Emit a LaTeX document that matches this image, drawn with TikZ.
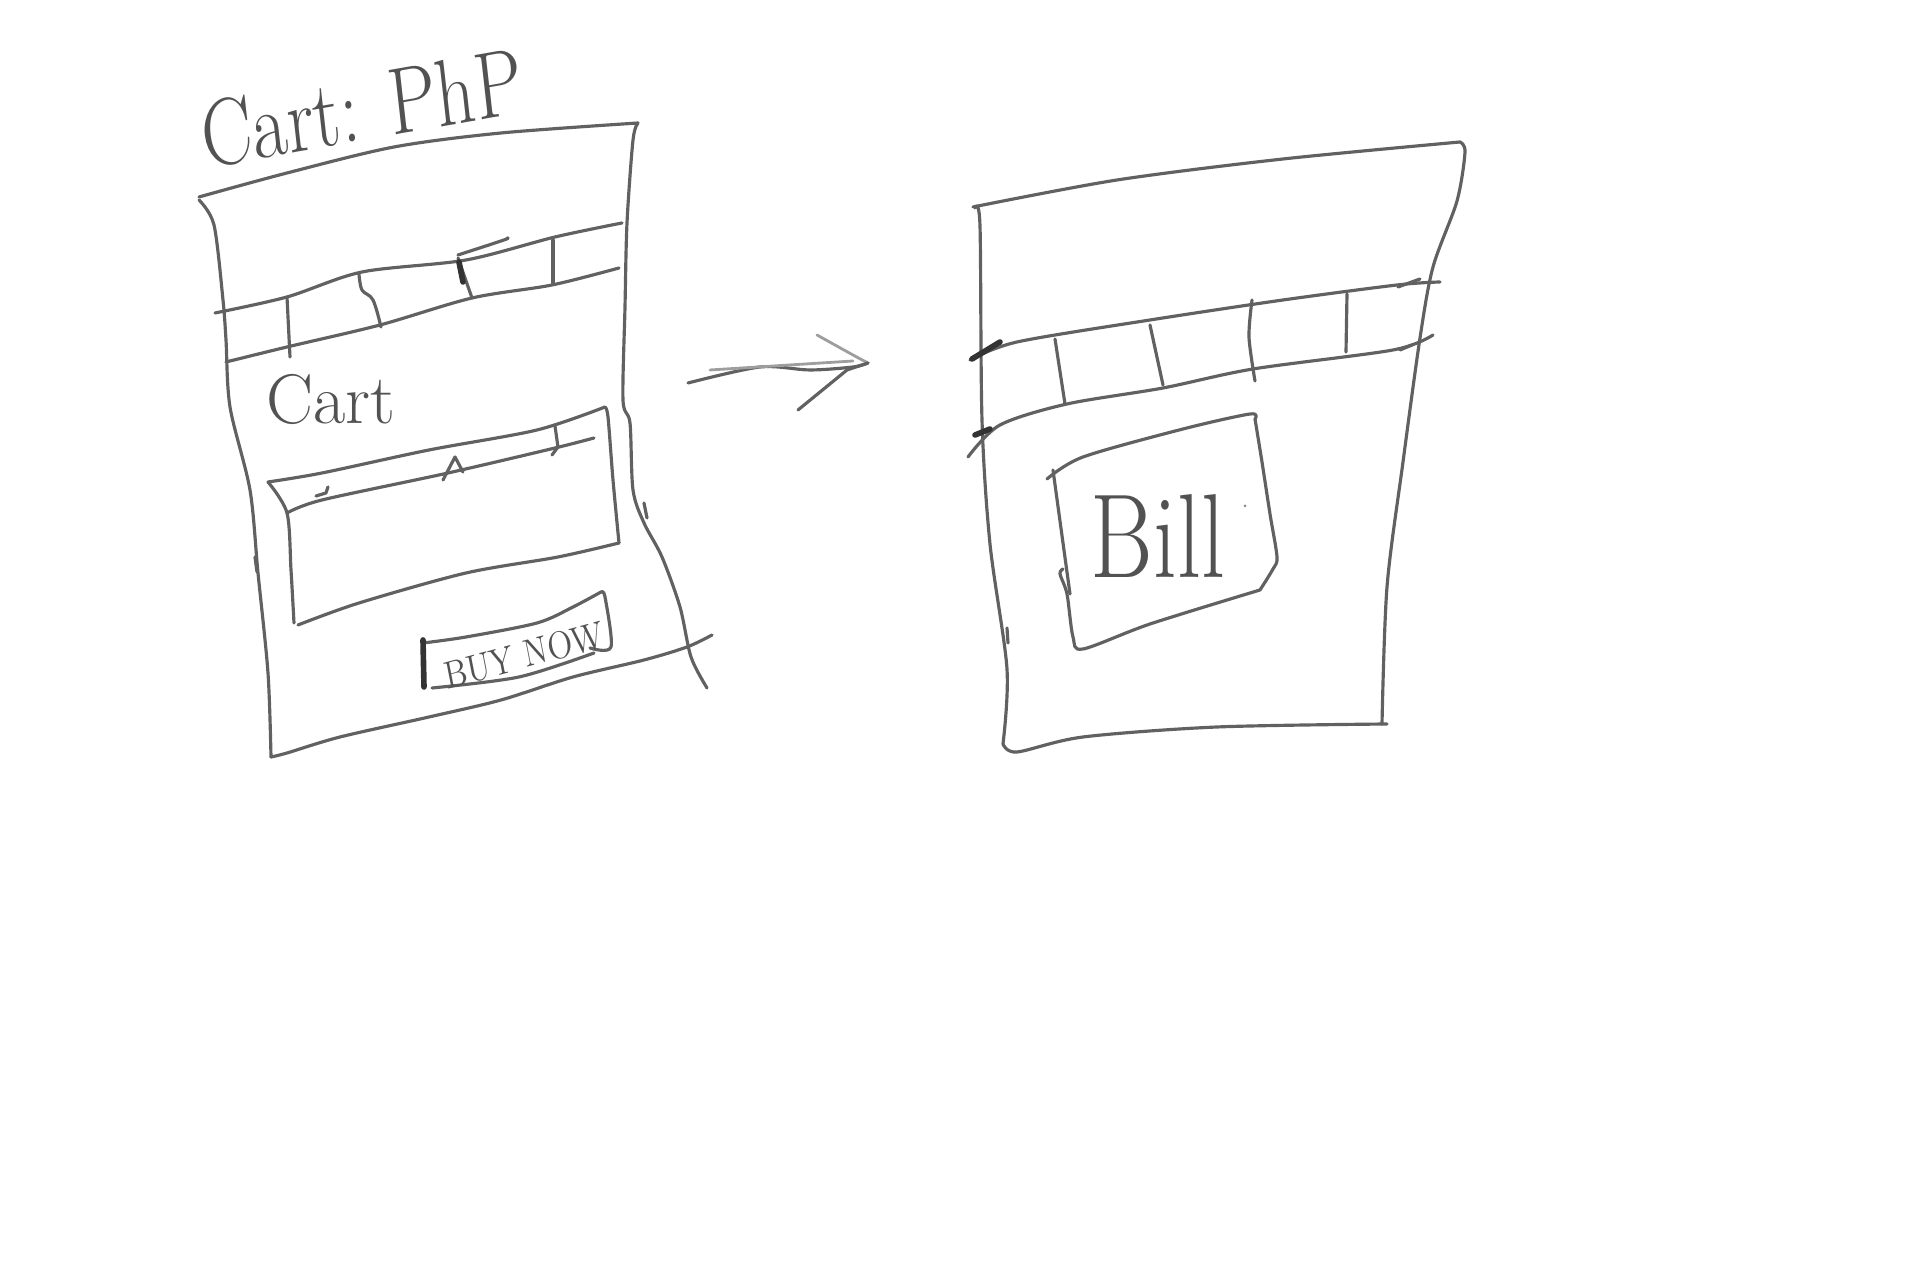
\documentclass[tikz,border=0pt]{standalone}
\usepackage{tikz}
\usetikzlibrary{calc}
\tikzset{
  pen/.style={draw=black!62, line width=0.9pt, line cap=round, line join=round},
  softpen/.style={draw=black!38, line width=0.8pt, line cap=round, line join=round},
  boldpen/.style={draw=black!80, line width=1.6pt, line cap=round},
  hand/.style={text=black!68, inner sep=0pt},
}

\begin{document}
\begin{tikzpicture}[x=0.01cm, y=-0.01cm]

\useasboundingbox (0,0) rectangle (1920,1280);

% ── Seite 1: cart.php ─────────────────────────────────────────────────────────
\node[hand, font=\fontsize{27}{30}\selectfont, xscale=0.8, rotate=8] (title) at (362,108) {Cart: PhP};

% Rahmen
\draw[pen] plot[smooth, tension=.5] coordinates {(199,197) (287,173) (394,147) (501,133) (638,123)};
\draw[pen] plot[smooth, tension=.5] coordinates {(199,200) (214,225) (223,300) (226,340) (230,407) (250,490) (258,573) (268,673) (271,757)};
\draw[pen] plot[smooth, tension=.5] coordinates {(271,757) (287,753) (340,737) (429,717) (501,700) (573,677) (644,660) (687,647) (712,635)};
\draw[pen] plot[smooth, tension=.5] coordinates {(638,123) (633,140) (627,223) (625,307) (623,400) (630,423) (633,490) (644,523) (662,557) (680,607) (691,657) (707,688)};
\draw[pen] (255,557) -- (257,572);
\draw[pen] (644,503) -- (647,518);

% Menüleiste
\draw[pen] plot[smooth, tension=.5] coordinates {(215,313) (287,297) (362,272) (466,260) (555,237) (622,223)};
\draw[pen] plot[smooth, tension=.5] coordinates {(458,255) (504,240) (507,238)};
\draw[pen] plot[smooth, tension=.5] coordinates {(226,362) (287,347) (380,325) (472,298) (552,285) (619,268)};
\draw[pen] (287,297) -- (290,357);
\draw[pen] plot[smooth, tension=.6] coordinates {(359,274) (362,290) (373,300) (381,327)};
\draw[pen] (458,258) -- (472,298);
\draw[boldpen] (459,262) -- (463,282);
\draw[pen] (553,240) -- (553,283);

% Überschrift
\node[hand, font=\fontsize{20}{24}\selectfont] (cartlbl) at (331,399) {Cart};

% Tabelle
\draw[pen] plot[smooth, tension=.5] coordinates {(268,482) (322,473) (429,450) (537,430) (605,407)};
\draw[pen] plot[smooth, tension=.5] coordinates {(605,407) (608,417) (613,480) (619,543)};
\draw[pen] plot[smooth, tension=.5] coordinates {(619,543) (558,557) (466,573) (359,603) (298,625)};
\draw[pen] plot[smooth, tension=.5] coordinates {(268,482) (287,513) (291,570) (294,623)};
\draw[pen] plot[smooth, tension=.5] coordinates {(287,513) (322,500) (448,473) (555,448) (594,438)};
\draw[pen] (316,496) -- (326,493) -- (328,487);
\draw[pen] (443,480) -- (455,457) -- (463,472);
\draw[pen] (555,426) -- (558,447) -- (552,455);

% Kaufen-Knopf
\draw[pen] plot[smooth, tension=.5] coordinates {(423,643) (466,637) (537,623) (573,607) (601,592)};
\draw[pen] plot[smooth, tension=.5] coordinates {(601,592) (605,597) (611,647) (590,648)};
\draw[pen] plot[smooth, tension=.5] coordinates {(432,688) (519,677) (594,653)};
\draw[boldpen] (423,640) -- (424,687);
\node[hand, font=\fontsize{11}{13}\selectfont, xscale=0.85, rotate=13] (buylbl) at (524,655) {BUY NOW};

% ── Pfeil ─────────────────────────────────────────────────────────────────────
\coordinate (arrowtail) at (688,383);
\coordinate (arrowtip) at (868,363);
\draw[pen] plot[smooth, tension=.5] coordinates {(arrowtail) (760,367) (810,370) (853,367) (arrowtip)};
\draw[softpen] (710,370) -- (853,361);
\draw[softpen] plot[smooth, tension=.5] coordinates {(817,335) (853,355) (arrowtip)};
\draw[pen] (798,410) -- (847,370) -- (arrowtip);

% ── Seite 2: Rechnung ─────────────────────────────────────────────────────────
% Rahmen
\draw[pen] plot[smooth, tension=.5] coordinates {(973,207) (1117,180) (1283,159) (1460,142)};
\draw[pen] plot[smooth, tension=.5] coordinates {(1460,142) (1465,152) (1457,201) (1433,267) (1420,338) (1403,462) (1387,587) (1382,724)};
\draw[pen] plot[smooth, tension=.5] coordinates {(1387,724) (1217,727) (1083,737) (1017,752) (1003,744)};
\draw[pen] plot[smooth, tension=.5] coordinates {(975,208) (980,226) (982,420) (990,544) (1007,669) (1003,744)};
\draw[pen] (1007,628) -- (1008,643);

% Menüleiste
\draw[pen] plot[smooth, tension=.5] coordinates {(970,360) (1017,342) (1150,320) (1283,300) (1397,285) (1440,282)};
\draw[pen] plot[smooth, tension=.5] coordinates {(968,457) (1000,425) (1067,404) (1163,388) (1253,369) (1393,350) (1433,335)};
\draw[boldpen] (972,359) -- (1000,342);
\draw[boldpen] (975,435) -- (990,429);
\draw[pen] (1398,287) -- (1420,279);
\draw[pen] (1400,350) -- (1412,345);
\draw[pen] (1055,339) -- (1065,404);
\draw[pen] (1150,325) -- (1163,385);
\draw[pen] plot[smooth, tension=.5] coordinates {(1252,300) (1249,337) (1255,381)};
\draw[pen] (1347,294) -- (1346,352);

% Rechnungsfeld
\draw[pen] plot[smooth, tension=.5] coordinates {(1047,479) (1083,457) (1183,429) (1250,414) (1255,419)};
\draw[pen] plot[smooth, tension=.5] coordinates {(1255,419) (1262,462) (1270,514) (1277,557) (1273,569) (1260,590)};
\draw[pen] plot[smooth, tension=.5] coordinates {(1260,590) (1150,624) (1083,649) (1073,637) (1067,594) (1060,574) (1063,569)};
\draw[pen] (1053,470) -- (1070,594);
\node[hand, font=\fontsize{34}{38}\selectfont, xscale=0.8] (billlbl) at (1158,536) {Bill};
\fill[black!45] (1245,506) circle (1.5);

\end{tikzpicture}
\end{document}
